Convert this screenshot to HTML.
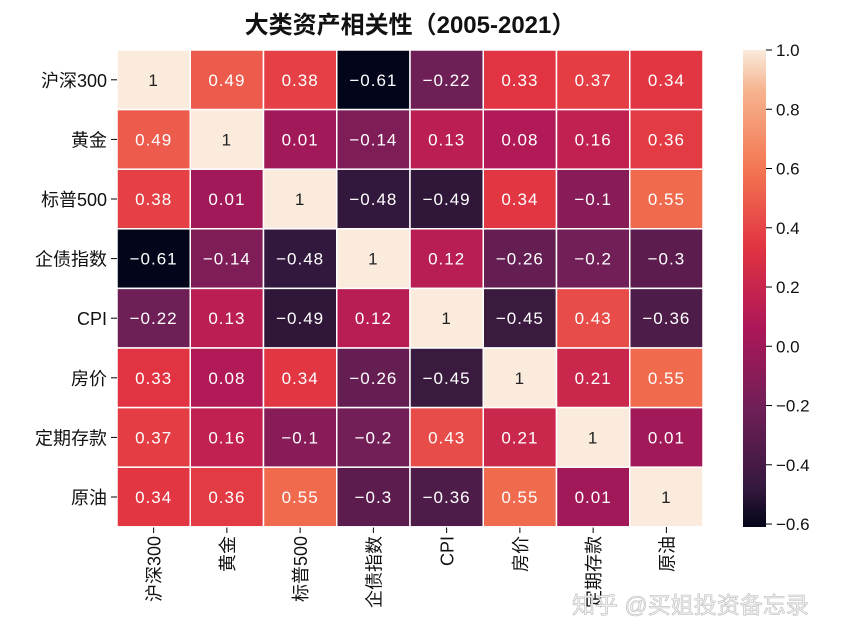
<!DOCTYPE html>
<html><head><meta charset="utf-8">
<style>
html,body{margin:0;padding:0;background:#fff;width:848px;height:640px;overflow:hidden}
svg text{font-family:"WenQuanYi Zen Hei","Liberation Sans","Noto Sans CJK SC",sans-serif}
</style></head><body>
<svg id="s" width="848" height="640" xmlns="http://www.w3.org/2000/svg">
<defs><linearGradient id="cb" x1="0" y1="1" x2="0" y2="0">
<stop offset="0" stop-color="#03051a"/><stop offset="0.0833" stop-color="#35193e"/>
<stop offset="0.25" stop-color="#701f57"/><stop offset="0.4167" stop-color="#ad1759"/>
<stop offset="0.5833" stop-color="#e13342"/><stop offset="0.75" stop-color="#f37651"/>
<stop offset="0.9167" stop-color="#f6b48f"/><stop offset="1" stop-color="#faebdd"/>
</linearGradient></defs>
<text x="410" y="33" font-size="24" text-anchor="middle" font-weight="bold" fill="#111">大类资产相关性（2005-2021）</text>
<g id="g"></g>
<rect x="743" y="50" width="23" height="477" fill="url(#cb)"/>
<text x="572" y="613" font-size="23" fill="#f4f4f4" stroke="#bbb" stroke-width="0.6">知乎 @买姐投资备忘录</text>
</svg>
<script>
var L=["沪深300","黄金","标普500","企债指数","CPI","房价","定期存款","原油"];
var M=[[1,.49,.38,-.61,-.22,.33,.37,.34],[.49,1,.01,-.14,.13,.08,.16,.36],[.38,.01,1,-.48,-.49,.34,-.1,.55],[-.61,-.14,-.48,1,.12,-.26,-.2,-.3],[-.22,.13,-.49,.12,1,-.45,.43,-.36],[.33,.08,.34,-.26,-.45,1,.21,.55],[.37,.16,-.1,-.2,.43,.21,1,.01],[.34,.36,.55,-.3,-.36,.55,.01,1]];
var S=[[0,[3,5,26]],[.0833,[53,25,62]],[.25,[112,31,87]],[.4167,[173,23,89]],[.5833,[225,51,66]],[.75,[243,118,81]],[.9167,[246,180,143]],[1,[250,235,221]]];
function col(v){var t=(v+0.61)/1.61;t=Math.max(0,Math.min(1,t));for(var i=0;i<S.length-1;i++){if(t<=S[i+1][0]){var f=(t-S[i][0])/(S[i+1][0]-S[i][0]);var c=S[i][1].map(function(a,k){return Math.round(a+(S[i+1][1][k]-a)*f)});return"rgb("+c.join(",")+")";}}return"rgb(250,235,221)";}
var x0=117,y0=50,cw=73.25,ch=59.6,h="";
for(var r=0;r<8;r++){for(var c=0;c<8;c++){var v=M[r][c];var x=x0+c*cw,y=y0+r*ch;
h+='<rect x="'+x+'" y="'+y+'" width="'+cw+'" height="'+ch+'" fill="'+col(v)+'" stroke="#fff" stroke-width="1.5"/>';
var s=(v==1)?"1":(v<0?"−"+String(-v):String(v));
h+='<text x="'+(x+cw/2)+'" y="'+(y+ch/2+6)+'" font-size="17" text-anchor="middle" fill="'+(v==1?"#222":"#fff")+'" letter-spacing="1">'+s+'</text>';}
h+='<line x1="111" x2="117" y1="'+(y0+r*ch+ch/2)+'" y2="'+(y0+r*ch+ch/2)+'" stroke="#000"/>';
h+='<text x="107" y="'+(y0+r*ch+ch/2+7)+'" font-size="18" text-anchor="end" fill="#111">'+L[r]+'</text>';
var cx=x0+r*cw+cw/2;
h+='<line x1="'+cx+'" x2="'+cx+'" y1="527" y2="533" stroke="#000"/>';
h+='<text transform="translate('+(cx+7)+',536) rotate(-90)" font-size="18" text-anchor="end" fill="#111">'+L[r]+'</text>';}
var tk=[1,.8,.6,.4,.2,0,-.2,-.4,-.6];
tk.forEach(function(t){var y=527-(t+0.61)/1.61*477;h+='<line x1="766" x2="772" y1="'+y+'" y2="'+y+'" stroke="#000"/><text x="776" y="'+(y+6)+'" font-size="17" fill="#111">'+(t<0?"−":"")+Math.abs(t).toFixed(1)+'</text>';});
document.getElementById("g").innerHTML=h;
</script>
</body></html>
